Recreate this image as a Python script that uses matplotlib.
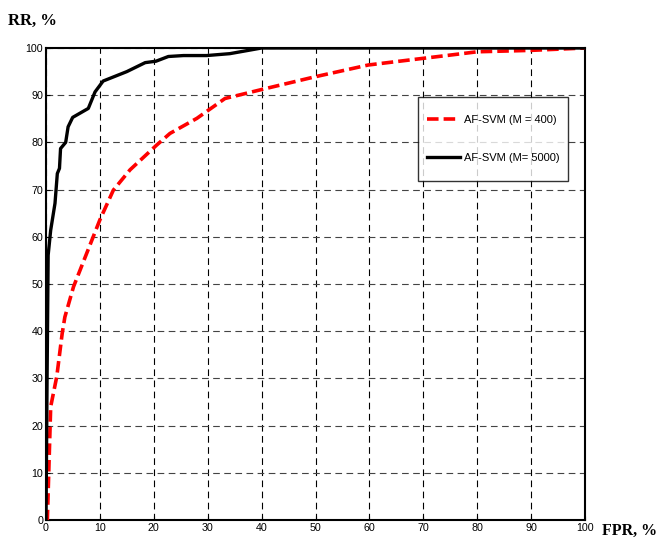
import matplotlib
matplotlib.use("Agg")
import matplotlib.pyplot as plt
import numpy as np
from matplotlib.lines import Line2D
from matplotlib.legend_handler import HandlerLine2D

# Data
fpr_m400 = [0, 0.25, 0.87, 2.0, 3.0, 3.5, 5.1, 7.55, 10.0, 12.5, 15.6, 20.5, 23.0, 28.0, 33.2, 40.0, 49.9, 59.8, 69.9, 75.0, 80.0, 90.0, 100.0]
rr_m400 = [0, 0, 24.0, 30.4, 39.5, 43.0, 49.4, 56.5, 63.6, 69.9, 74.2, 79.4, 81.9, 85.1, 89.3, 91.2, 93.9, 96.4, 97.8, 98.5, 99.2, 99.5, 100.0]

fpr_m5000 = [0, 0.2, 0.4, 0.87, 1.67, 2.1, 2.5, 2.7, 3.65, 4.1, 4.95, 7.85, 9.1, 10.6, 15.0, 18.4, 20.4, 22.7, 25.5, 29.8, 34.1, 40.0, 60.0, 100.0]
rr_m5000 = [0, 30.0, 56.1, 61.4, 67.1, 73.4, 74.5, 78.7, 80.0, 83.3, 85.3, 87.2, 90.7, 93.0, 95.0, 96.9, 97.2, 98.2, 98.4, 98.4, 98.8, 100.0, 100.0, 100.0]

labels = ["AF-SVM (M = 400)", "AF-SVM (M= 5000)"]
xticks = list(range(0, 101, 10))
yticks = list(range(0, 101, 10))


class CenteredLineHandler(HandlerLine2D):
    """Line handle placed at the visual centre of the label text."""
    def create_artists(self, legend, orig_handle, xdescent, ydescent, width, height, fontsize, trans):
        arts = super().create_artists(legend, orig_handle, xdescent, ydescent, width, height, fontsize, trans)
        for a in arts:
            if isinstance(a, Line2D):
                yd = np.asarray(a.get_ydata(), dtype=float)
                a.set_ydata(np.full_like(yd, 0.36 * fontsize))
        return arts


fig = plt.figure(figsize=(6.57, 5.38), dpi=100)
ax = fig.add_axes([46/657, 18/538, 539/657, 472/538])

ax.plot(fpr_m400, rr_m400, color="#ff0000", lw=2.6, ls=(0, (3.2, 1.4)), label=labels[0], zorder=3)
ax.plot(fpr_m5000, rr_m5000, color="black", lw=2.4, label=labels[1], zorder=4)

ax.set_xlim(0, 100)
ax.set_ylim(0, 100)
ax.set_xticks(xticks)
ax.set_yticks(yticks)
ax.tick_params(direction="in", length=3, width=0.8, labelsize=7.7, pad=2)
for lab in ax.get_xticklabels() + ax.get_yticklabels():
    lab.set_family("Liberation Sans")
for sp in ax.spines.values():
    sp.set_linewidth(1.5)

ax.xaxis.grid(True, color="black", lw=0.8, ls=(0, (6, 4)))
ax.yaxis.grid(True, color="#444444", lw=0.8, ls=(0, (6, 4)))
ax.set_axisbelow(True)

fig.text(8/657, 1 - 21/538, "RR, %", family="Liberation Serif", weight="bold", fontsize=12, va="center", ha="left")
fig.text(602/657, 1 - 531/538, "FPR, %", family="Liberation Serif", weight="bold", fontsize=11.5, va="center", ha="left")

leg = ax.legend(loc="upper left", bbox_to_anchor=(0.691, 0.8955), frameon=True, fancybox=False,
                prop={"family": "Liberation Sans", "size": 8.0}, handlelength=3.0, handletextpad=0.35,
                handleheight=3.6, labelspacing=0.83, borderpad=0.75, borderaxespad=0,
                handler_map={Line2D: CenteredLineHandler()})
leg.get_frame().set_edgecolor("black")
leg.get_frame().set_linewidth(1.0)

fig.savefig("out.png", dpi=100)
